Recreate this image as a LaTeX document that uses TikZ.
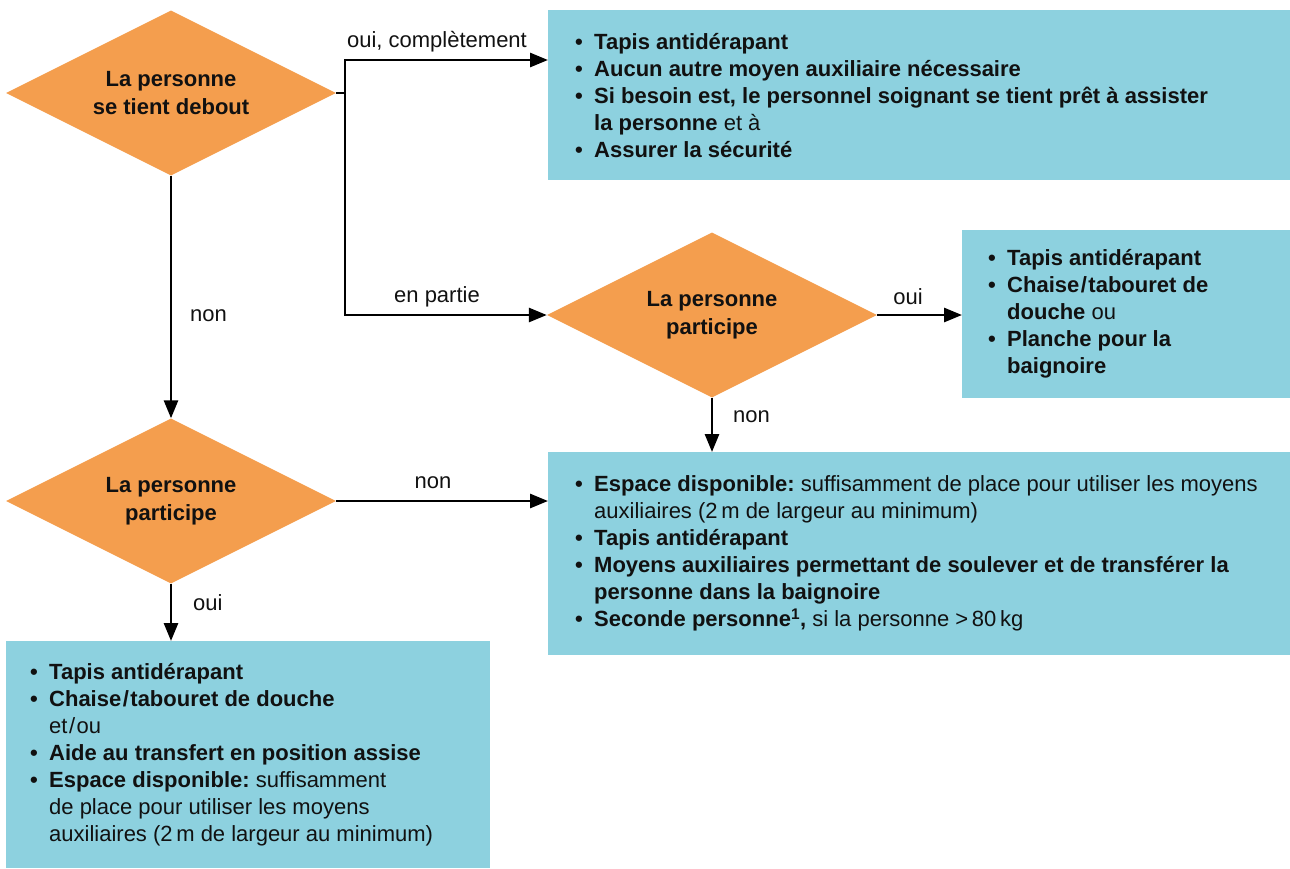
\documentclass[tikz,border=0pt]{standalone}
\usepackage{fontspec}
\setmainfont{Liberation Sans}
\usetikzlibrary{shapes.geometric,arrows.meta}
\definecolor{dorange}{HTML}{F49E4E}
\definecolor{bblue}{HTML}{8DD1DF}
\definecolor{ink}{HTML}{111111}
\frenchspacing
\newcommand\bit[1]{\makebox[19pt][l]{\textbf{\textbullet}}{#1}}
\newcommand\cnt[1]{\hspace*{19pt}{#1}}
\newcommand\sla{\kern1.5pt/\kern1.5pt}
\begin{document}
\begin{tikzpicture}[x=1pt,y=-1pt,
  dec/.style={diamond, aspect=2, fill=dorange, inner sep=0pt, minimum width=330pt, minimum height=165pt,
    font=\bfseries\fontsize{22}{28}\selectfont, align=center, text=ink},
  boxr/.style={rectangle, fill=bblue, inner sep=0pt, anchor=north west},
  txt/.style={anchor=west, align=left, inner sep=0pt, font=\frenchspacing\fontsize{22}{27}\selectfont, text=ink},
  lbl/.style={font=\fontsize{22}{27}\selectfont, inner sep=0pt, text=ink},
  ln/.style={line width=2.8pt, draw=black},
  arr/.style={line width=2.8pt, draw=black, -{Triangle[length=18pt,width=14pt]}}]
\useasboundingbox (0,0) rectangle (1290,868);

% decisions
\node[dec] (d1) at (171,93) {La personne\\se tient debout};
\node[dec] (d2) at (712,315) {La personne\\participe};
\node[dec] (d3) at (171,501) {La personne\\participe};

% boxes
\node[boxr, minimum width=742pt, minimum height=170pt] (b1) at (548,10) {};
\node[boxr, minimum width=328pt, minimum height=168pt] (b2) at (962,230) {};
\node[boxr, minimum width=742pt, minimum height=203pt] (b3) at (548,452) {};
\node[boxr, minimum width=484pt, minimum height=227pt] (b4) at (6,641) {};

\node[txt] (t1) at ([xshift=27pt]b1.west) {%
\bit{\bfseries Tapis antidérapant}\\
\bit{\bfseries Aucun autre moyen auxiliaire nécessaire}\\
\bit{\bfseries Si besoin est, le personnel soignant se tient prêt à assister}\\
\cnt{\textbf{la personne} et à}\\
\bit{\bfseries Assurer la sécurité}};

\node[txt] (t2) at ([xshift=26pt]b2.west) {%
\bit{\bfseries Tapis antidérapant}\\
\bit{\bfseries Chaise\sla tabouret de}\\
\cnt{\textbf{douche} ou}\\
\bit{\bfseries Planche pour la}\\
\cnt{\bfseries baignoire}};

\node[txt] (t3) at ([xshift=27pt]b3.west) {%
\bit{\textbf{Espace disponible:} suffisamment de place pour utiliser les moyens}\\
\cnt{auxiliaires (2\,m de largeur au minimum)}\\
\bit{\bfseries Tapis antidérapant}\\
\bit{\bfseries Moyens auxiliaires permettant de soulever et de transférer la}\\
\cnt{\bfseries personne dans la baignoire}\\
\bit{\textbf{Seconde personne\textsuperscript{1},} si la personne >\,80\,kg}};

\node[txt] (t4) at ([xshift=24pt]b4.west) {%
\bit{\bfseries Tapis antidérapant}\\
\bit{\bfseries Chaise\sla tabouret de douche}\\
\cnt{et\sla ou}\\
\bit{\bfseries Aide au transfert en position assise}\\
\bit{\textbf{Espace disponible:} suffisamment}\\
\cnt{de place pour utiliser les moyens}\\
\cnt{auxiliaires (2\,m de largeur au minimum)}};

% connectors
\coordinate (j1) at (345,93);
\coordinate (e1) at (548,60);
\draw[ln] (d1.east) -- (j1);
\draw[arr] (j1) |- (e1);
\draw[arr] (j1) |- (d2.west);
\draw[arr] (d2.east) -- (b2.west |- d2.east);
\draw[arr] (d2.south) -- (d2.south |- b3.north);
\draw[arr] (d1.south) -- (d3.north);
\draw[arr] (d3.east) -- (b3.west |- d3.east);
\draw[arr] (d3.south) -- (d3.south |- b4.north);

% labels
\node[lbl] (l1) at (437,42) {oui, complètement};
\node[lbl] (l2) at (437,297) {en partie};
\node[lbl] (l3) at (908,297) {oui};
\node[lbl, anchor=west] (l4) at (733,417) {non};
\node[lbl, anchor=west] (l5) at (190,316) {non};
\node[lbl] (l6) at (433,483) {non};
\node[lbl, anchor=west] (l7) at (193,603) {oui};
\end{tikzpicture}
\end{document}
